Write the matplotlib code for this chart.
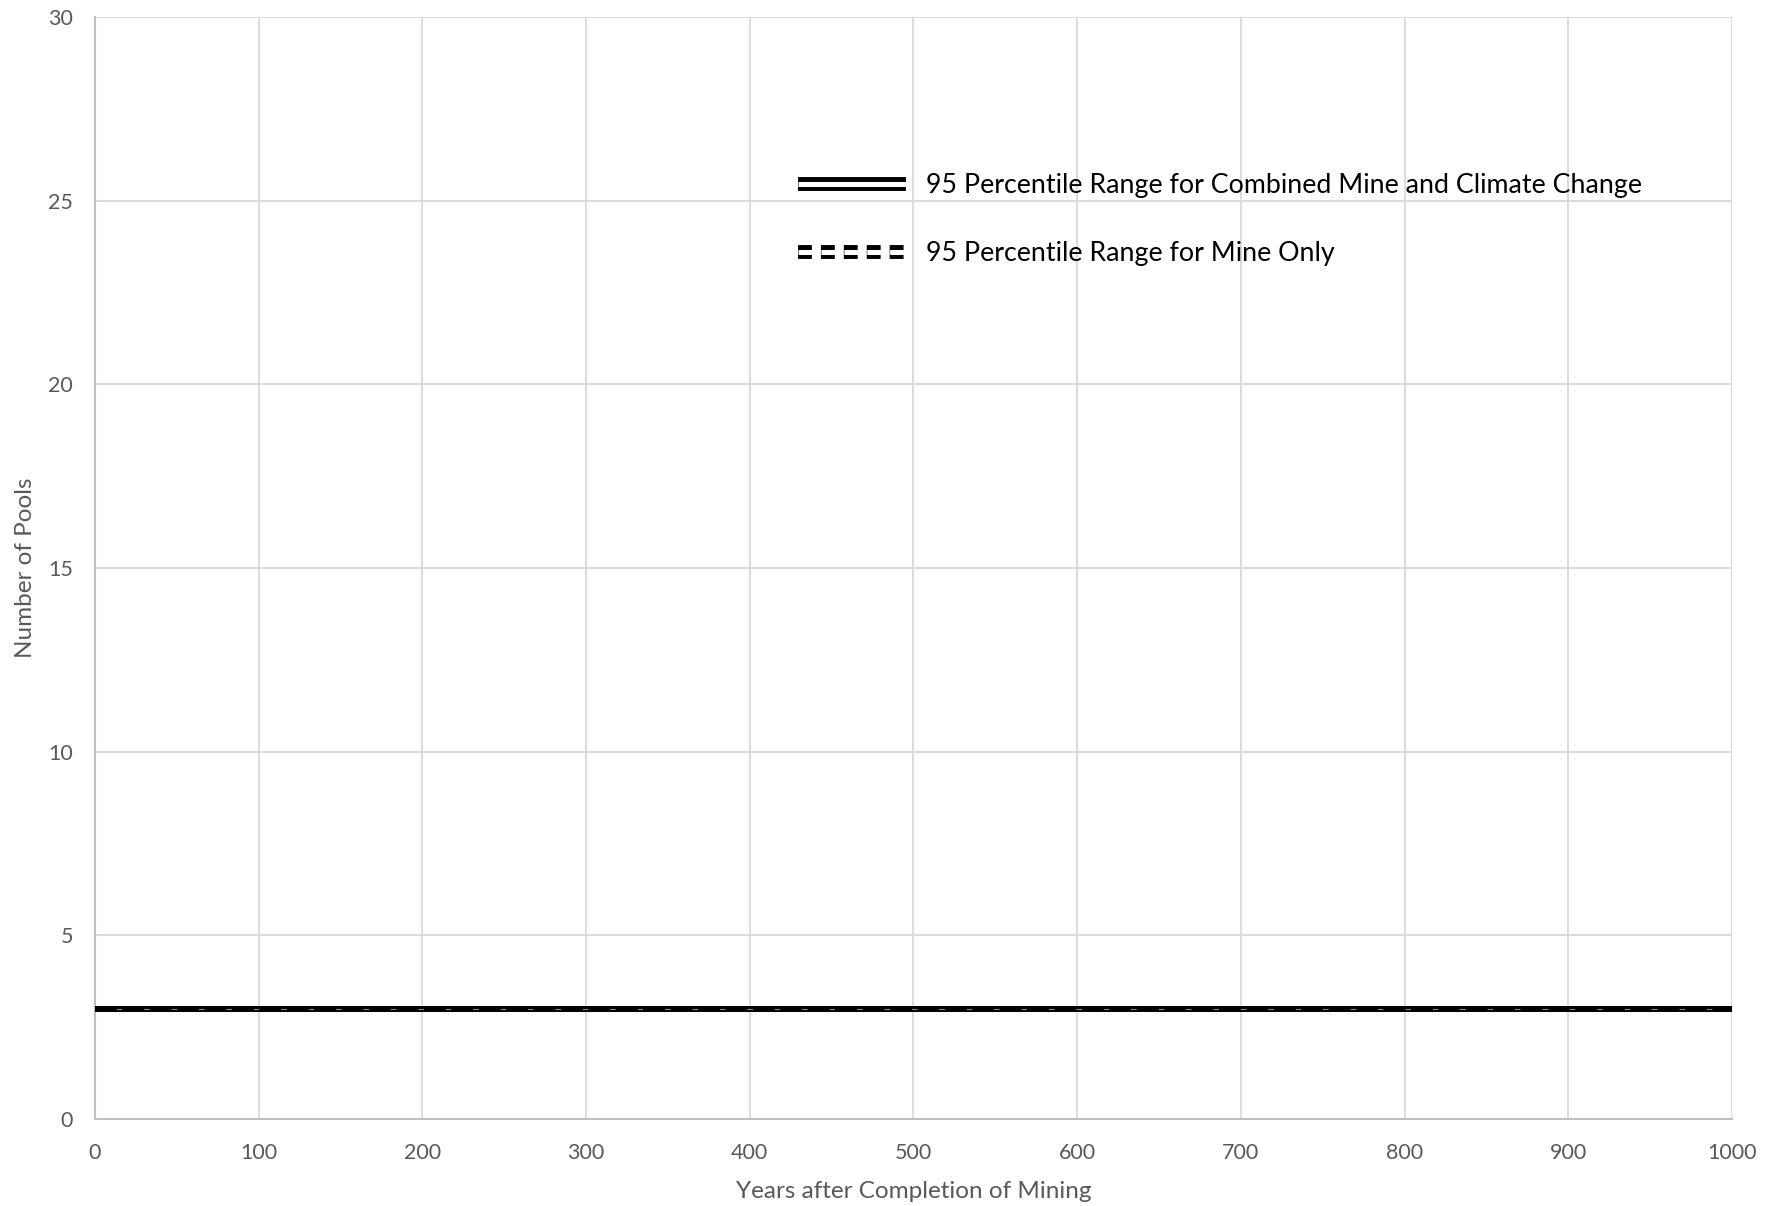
import matplotlib
matplotlib.use("Agg")
import matplotlib.pyplot as plt
import matplotlib.patheffects as pe
from matplotlib.lines import Line2D

plt.rcParams['font.family'] = ['Lato', 'DejaVu Sans']

# Years after completion of mining and 95-percentile bounds of pool counts
years = [0, 1000]
combined_low = [3, 3]
combined_high = [3, 3]
mine_low = [3, 3]
mine_high = [3, 3]

x_ticks = [0, 100, 200, 300, 400, 500, 600, 700, 800, 900, 1000]
y_ticks = [0, 5, 10, 15, 20, 25, 30]

label_combined = "95 Percentile Range for Combined Mine and Climate Change"
label_mine = "95 Percentile Range for Mine Only"

fig = plt.figure(figsize=(17.8, 12.06), dpi=100)
ax = fig.add_axes([0.0534, 0.0721, 0.9196, 0.9138])

grid_c = "#d9d9d9"
text_c = "#595959"

double_fx = [pe.Stroke(linewidth=4.2, foreground="black"),
             pe.Stroke(linewidth=0.8, foreground="#8a8a8a")]

for series in (combined_low, combined_high):
    ax.plot(years, series, color="black", lw=4.2, solid_capstyle="butt",
            path_effects=double_fx, zorder=3)
for series in (mine_low, mine_high):
    ax.plot(years, series, color="black", lw=4.2, linestyle=(0, (3.7, 1.0)),
            dash_capstyle="butt", zorder=4)

ax.set_xlim(0, 1000)
ax.set_ylim(0, 30)
ax.set_xticks(x_ticks)
ax.set_yticks(y_ticks)
ax.grid(True, color=grid_c, lw=1.3)
ax.set_axisbelow(True)
for s in ("top", "right"):
    ax.spines[s].set_visible(False)
for s in ("left", "bottom"):
    ax.spines[s].set_color("#bfbfbf")
    ax.spines[s].set_linewidth(1.5)
ax.tick_params(length=0, labelsize=15.5, colors=text_c)
ax.tick_params(axis="y", pad=16)
ax.tick_params(axis="x", pad=17)

ax.set_xlabel("Years after Completion of Mining", fontsize=17.5, color=text_c, labelpad=13)
ax.set_ylabel("Number of Pools", fontsize=17.5, color=text_c, labelpad=8.5)

# Legend keys drawn as double lines
h_combined = Line2D([], [], color="white", lw=3.6, solid_capstyle="butt",
                    path_effects=[pe.Stroke(linewidth=10.0, foreground="black"), pe.Normal()])
h_mine = Line2D([], [], color="black", lw=10.0, linestyle=(0, (1.0, 0.65)),
                dash_capstyle="butt",
                path_effects=[pe.Normal(), pe.Stroke(linewidth=3.6, foreground="white")])
leg = ax.legend([h_combined, h_mine], [label_combined, label_mine],
                loc="upper left", bbox_to_anchor=(0.415, 0.88), frameon=False,
                fontsize=19.3, handlelength=4.0, handletextpad=0.75,
                labelspacing=1.6)

fig.savefig("out.png", dpi=100, facecolor="white")
